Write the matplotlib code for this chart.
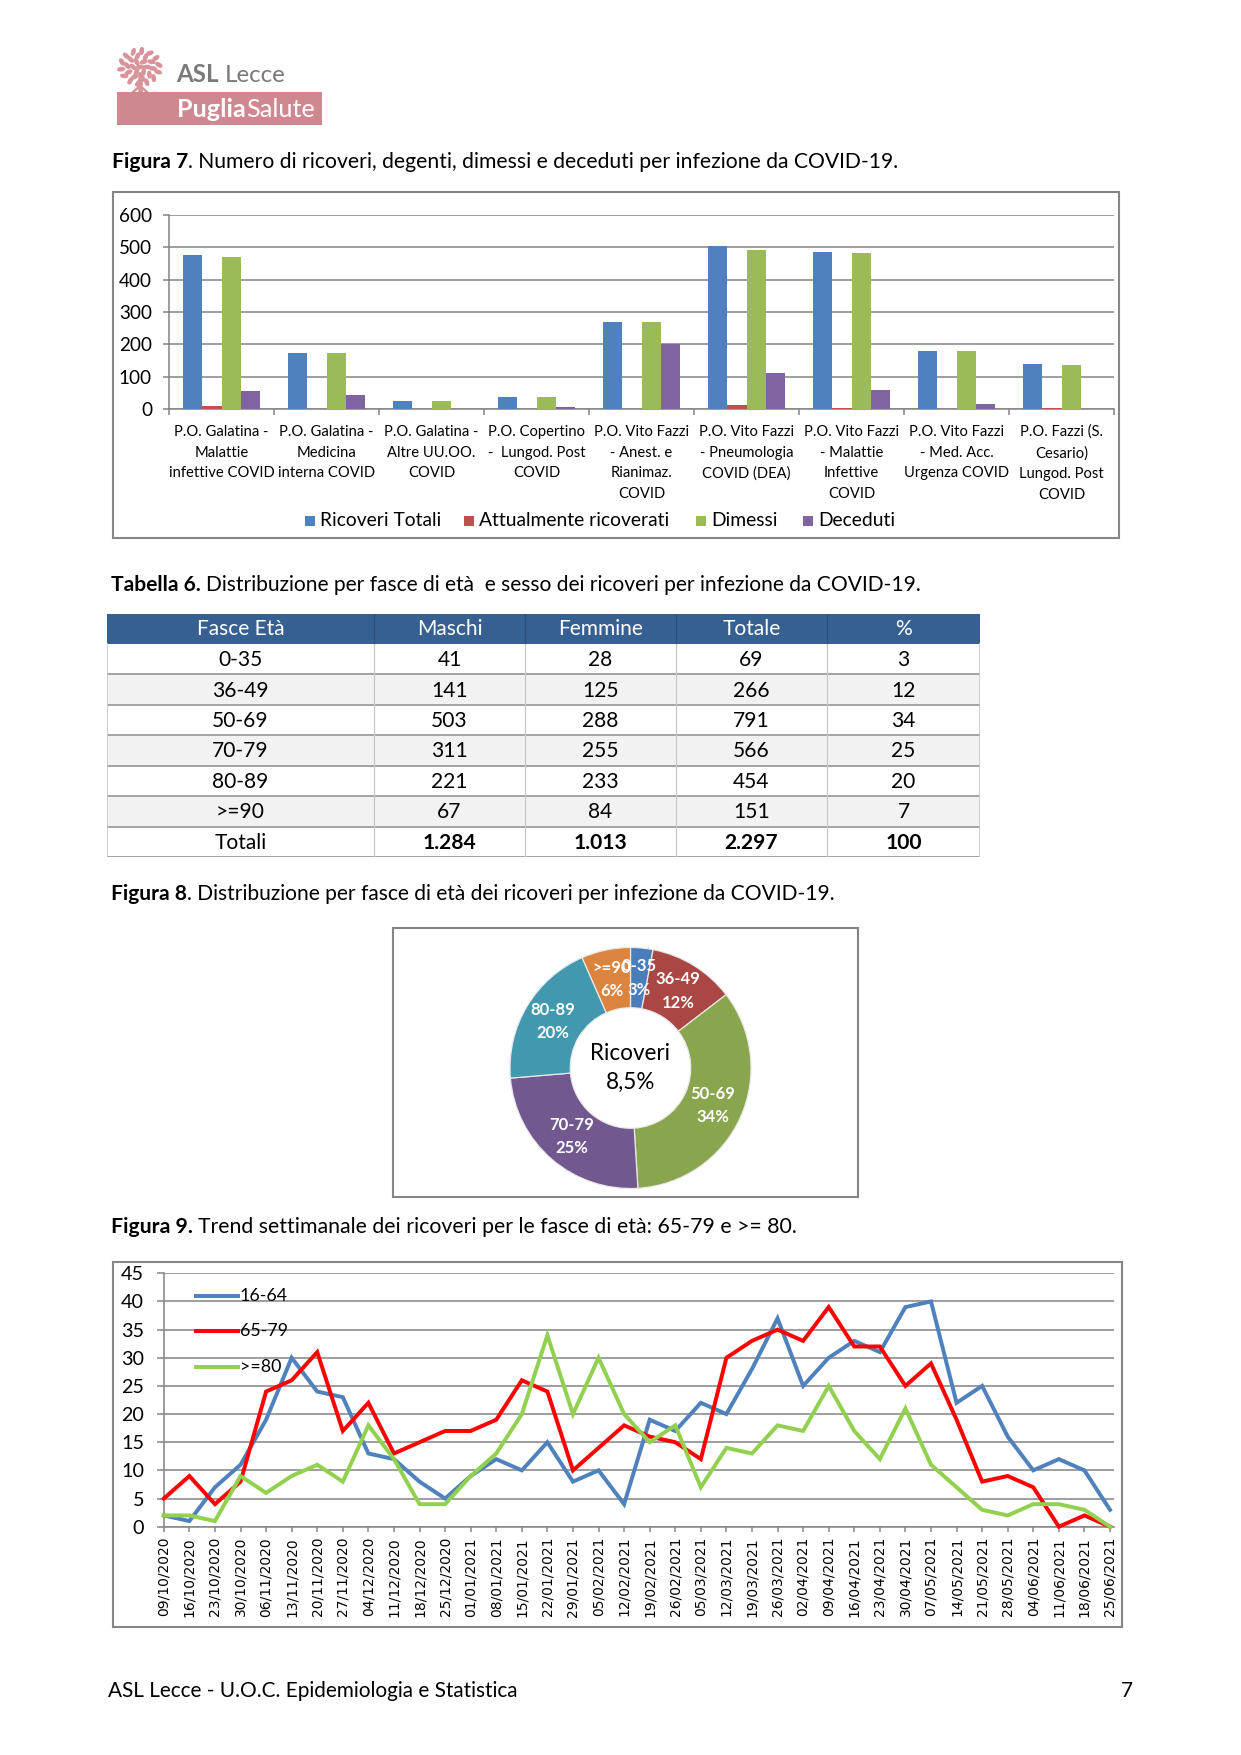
import numpy as np
import matplotlib
matplotlib.use('Agg')
import matplotlib.pyplot as plt
from matplotlib.patches import Rectangle, Ellipse
from matplotlib.lines import Line2D

W, H, DPI = 1241, 1755, 150

# ---- Figura 7: ricoveri per reparto
reparti = ['P.O. Galatina -\nMalattie\ninfettive COVID', 'P.O. Galatina -\nMedicina\ninterna COVID',
           'P.O. Galatina -\nAltre UU.OO.\nCOVID', 'P.O. Copertino\n-  Lungod. Post\nCOVID',
           'P.O. Vito Fazzi\n- Anest. e\nRianimaz.\nCOVID', 'P.O. Vito Fazzi\n- Pneumologia\nCOVID (DEA)',
           'P.O. Vito Fazzi\n- Malattie\nInfettive\nCOVID', 'P.O. Vito Fazzi\n- Med. Acc.\nUrgenza COVID',
           'P.O. Fazzi (S.\nCesario)\nLungod. Post\nCOVID']
ricoveri_totali = [477, 172, 25, 37, 269, 504, 486, 178, 140]
attualmente = [8, 0, 0, 0, 0, 12, 4, 0, 3]
dimessi = [469, 172, 25, 37, 269, 491, 482, 178, 137]
deceduti = [57, 42, 0, 6, 202, 111, 60, 15, 0]
serie_nomi = ['Ricoveri Totali', 'Attualmente ricoverati', 'Dimessi', 'Deceduti']
serie_colori = ['#4F81BD', '#C0504D', '#9BBB59', '#8064A2']

# ---- Tabella 6
fasce = ['0-35', '36-49', '50-69', '70-79', '80-89', '>=90']
maschi = [41, 141, 503, 311, 221, 67]
femmine = [28, 125, 288, 255, 233, 84]
totale = [69, 266, 791, 566, 454, 151]
perc = [3, 12, 34, 25, 20, 7]
riga_totali = ['Totali', '1.284', '1.013', '2.297', '100']
intestazione = ['Fasce Età', 'Maschi', 'Femmine', 'Totale', '%']

# ---- Figura 8: donut
donut_pct = ['3%', '12%', '34%', '25%', '20%', '6%']
donut_colori = ['#4A7EBB', '#AA4643', '#89A54E', '#71588F', '#4198AF', '#DB843D']

# ---- Figura 9: trend settimanale
date = ['09/10/2020', '16/10/2020', '23/10/2020', '30/10/2020', '06/11/2020', '13/11/2020', '20/11/2020',
        '27/11/2020', '04/12/2020', '11/12/2020', '18/12/2020', '25/12/2020', '01/01/2021', '08/01/2021',
        '15/01/2021', '22/01/2021', '29/01/2021', '05/02/2021', '12/02/2021', '19/02/2021', '26/02/2021',
        '05/03/2021', '12/03/2021', '19/03/2021', '26/03/2021', '02/04/2021', '09/04/2021', '16/04/2021',
        '23/04/2021', '30/04/2021', '07/05/2021', '14/05/2021', '21/05/2021', '28/05/2021', '04/06/2021',
        '11/06/2021', '18/06/2021', '25/06/2021']
eta_16_64 = [2, 1, 7, 11, 19, 30, 24, 23, 13, 12, 8, 5, 9, 12, 10, 15, 8, 10, 4, 19, 17,
             22, 20, 28, 37, 25, 30, 33, 31, 39, 40, 22, 25, 16, 10, 12, 10, 3]
eta_65_79 = [5, 9, 4, 8, 24, 26, 31, 17, 22, 13, 15, 17, 17, 19, 26, 24, 10, 14, 18, 16, 15,
             12, 30, 33, 35, 33, 39, 32, 32, 25, 29, 19, 8, 9, 7, 0, 2, 0]
eta_80 = [2, 2, 1, 9, 6, 9, 11, 8, 18, 12, 4, 4, 9, 13, 20, 34, 20, 30, 20, 15, 18,
          7, 14, 13, 18, 17, 25, 17, 12, 21, 11, 7, 3, 2, 4, 4, 3, 0]
trend_nomi = ['16-64', '65-79', '>=80']
trend_colori = ['#4F81BD', '#FF0000', '#92D050']

GRID = '#868686'

fig = plt.figure(figsize=(W / DPI, H / DPI), dpi=DPI)
fig.patch.set_facecolor('white')
renderer = fig.canvas.get_renderer()


def px_axes(x0, y0, x1, y1):
    return fig.add_axes([x0 / W, 1 - y1 / H, (x1 - x0) / W, (y1 - y0) / H])


def width_of(s, size, **kw):
    t = fig.text(0, 0, s, fontsize=size, **kw)
    w = t.get_window_extent(renderer).width
    t.remove()
    return w


def fit(s, target, **kw):
    return 10 * target / width_of(s, 10, **kw)


def frame(x0, y0, x1, y1, color=GRID, lw=1.0):
    fig.add_artist(Rectangle((x0 / W, 1 - y1 / H), (x1 - x0) / W, (y1 - y0) / H,
                             transform=fig.transFigure, fill=False, ec=color, lw=lw))


def runs(x0, x1, y, bold, rest, color='black', family='Lato', gap=False):
    # bold part + regular part fitted between x0 and x1
    sp = (width_of('x x', 10, family=family) - width_of('xx', 10, family=family)) if gap else 0
    w10 = width_of(bold, 10, family=family, fontweight='bold') + sp + width_of(rest, 10, family=family)
    size = 10 * (x1 - x0) / w10
    t = fig.text(x0 / W, 1 - y / H, bold, fontsize=size, fontweight='bold', family=family,
                 color=color, va='baseline')
    x = x0 + t.get_window_extent(renderer).width + sp * size / 10
    fig.text(x / W, 1 - y / H, rest, fontsize=size, family=family, color=color, va='baseline')


# ---------------- logo
axl = px_axes(112, 45, 170, 97)
axl.set_xlim(112, 170)
axl.set_ylim(97, 45)
axl.axis('off')
pink = '#D8939B'
axl.plot([140, 140], [74, 92], color=pink, lw=2.2)
axl.plot([133, 140, 147], [92, 86, 92], color=pink, lw=1.2)
rings = [(0, 1), (7, 6), (13, 10), (19, 14)]
for r, n in rings:
    for i in range(n):
        a = 2 * np.pi * i / n + r * 0.3
        cx, cy = 140 + r * np.cos(a), 67 + 0.85 * r * np.sin(a)
        axl.add_patch(Ellipse((cx, cy), 6, 2.6, angle=np.degrees(a) + 40 * (i % 2), color=pink))
fig.add_artist(Rectangle((117 / W, 1 - 125 / H), 205 / W, 33 / H, transform=fig.transFigure,
                         color='#CF8790', lw=0))
runs(176, 286, 82, 'ASL', 'Lecce', color='#7A7A7A', gap=True)
runs(177, 315, 117, 'Puglia', 'Salute', color='white')

# ---------------- captions
runs(112, 900, 168, 'Figura 7', '. Numero di ricoveri, degenti, dimessi e deceduti per infezione da COVID-19.')
runs(111, 927, 591, 'Tabella 6.', 'Distribuzione per fasce di età  e sesso dei ricoveri per infezione da COVID-19.',
     gap=True)
runs(111, 838, 900, 'Figura 8', '. Distribuzione per fasce di età dei ricoveri per infezione da COVID-19.')
runs(111, 795, 1233, 'Figura 9.', 'Trend settimanale dei ricoveri per le fasce di età: 65-79 e >= 80.', gap=True)

# footer
fsize = fit('ASL Lecce - U.O.C. Epidemiologia e Statistica', 411, family='Lato')
fig.text(108 / W, 1 - 1697 / H, 'ASL Lecce - U.O.C. Epidemiologia e Statistica', fontsize=fsize,
         family='Lato', va='baseline')
fig.text(1127 / W, 1 - 1697 / H, '7', fontsize=fsize, family='Lato', va='baseline', ha='center')

# ---------------- Figura 7 bar chart
frame(113, 192, 1119, 538)
ax1 = px_axes(169, 215, 1114, 409)
x = np.arange(len(reparti))
bw = 0.181
for k, vals in enumerate([ricoveri_totali, attualmente, dimessi, deceduti]):
    ax1.bar(x + 0.138 + k * bw, vals, width=bw, align='edge', color=serie_colori[k], zorder=3)
ax1.set_xlim(0, len(reparti))
ax1.set_ylim(0, 600)
ax1.set_yticks(range(0, 601, 100))
ax1.yaxis.grid(True, color=GRID, lw=0.75)
ax1.set_axisbelow(True)
for s in ['top', 'right']:
    ax1.spines[s].set_visible(False)
for s in ['left', 'bottom']:
    ax1.spines[s].set_color(GRID)
    ax1.spines[s].set_linewidth(0.75)
ax1.set_xticks(np.arange(len(reparti) + 1))
ax1.set_xticklabels([])
ax1.set_xticks(x + 0.5, minor=True)
cat_size = fit('infettive COVID', 105, family='Lato')
ax1.set_xticklabels(reparti, minor=True, fontsize=cat_size, family='Lato', linespacing=1.62)
ax1.tick_params(axis='x', which='major', length=2.9, color=GRID, width=0.75)
ax1.tick_params(axis='x', which='minor', length=0, pad=7.6)
ax1.tick_params(axis='y', length=2.9, color=GRID, width=0.75, pad=5.3,
                labelsize=fit('600', 33, family='Lato'))
for lab in ax1.get_yticklabels():
    lab.set_family('Lato')

# legend of bar chart
leg_size = fit('Ricoveri Totali', 121, family='Lato')
for nome, col, sx in zip(serie_nomi, serie_colori, [305, 464, 696, 803]):
    fig.add_artist(Rectangle((sx / W, 1 - 526 / H), 10 / W, 10 / H, transform=fig.transFigure,
                             color=col, lw=0))
    fig.text((sx + 15) / W, 1 - 521 / H, nome, fontsize=leg_size, family='Lato', va='center')

# ---------------- Tabella 6
cols = [107, 374, 525, 676, 827, 980]
top, hdr_h = 614, 30
row_h = (857 - 644) / 7
axt = px_axes(cols[0], top, cols[-1], 857)
axt.set_xlim(cols[0], cols[-1])
axt.set_ylim(857, top)
axt.axis('off')
tsize = fit('Maschi', 66, family='Lato')
axt.add_patch(Rectangle((cols[0], top), cols[-1] - cols[0], hdr_h, color='#366092', lw=0))
for j, h in enumerate(intestazione):
    axt.text((cols[j] + cols[j + 1]) / 2, top + hdr_h / 2, h, color='white', fontsize=tsize,
             family='Lato', ha='center', va='center')
righe = [[f, str(m), str(fe), str(t), str(p)] for f, m, fe, t, p in zip(fasce, maschi, femmine, totale, perc)]
righe.append(riga_totali)
for i, riga in enumerate(righe):
    y0 = 644 + i * row_h
    if i % 2 == 1:
        axt.add_patch(Rectangle((cols[0], y0), cols[-1] - cols[0], row_h, color='#F2F2F2', lw=0))
    for j, v in enumerate(riga):
        bold = (i == len(righe) - 1 and j > 0)
        axt.text((cols[j] + cols[j + 1]) / 2, y0 + row_h / 2 + 1, v, fontsize=tsize, family='Lato',
                 fontweight='bold' if bold else 'normal', ha='center', va='center')
    axt.plot([cols[0], cols[-1]], [y0 + row_h, y0 + row_h], color='#A0A0A0', lw=0.9)
for c in cols[1:-1]:
    axt.plot([c, c], [top, top + hdr_h], color='#2B4E78', lw=0.6)
    axt.plot([c, c], [top + hdr_h, 857], color='#C8C8C8', lw=0.6)
axt.plot([cols[0], cols[0]], [top + hdr_h, 857], color='#C8C8C8', lw=0.8)
axt.plot([cols[-1], cols[-1]], [top + hdr_h, 857], color='#C8C8C8', lw=0.8)

# ---------------- Figura 8 donut
frame(393, 928, 858, 1197)
r_px = 120.5
axd = px_axes(630.5 - r_px, 1068 - r_px, 630.5 + r_px, 1068 + r_px)
wedges, _ = axd.pie(totale, colors=donut_colori, startangle=90, counterclock=False,
                    wedgeprops=dict(width=0.5, edgecolor='#E8E8E8', linewidth=0.6))
axd.set_xlim(-1, 1)
axd.set_ylim(-1, 1)
dsize = fit('36-49', 45, family='Lato', fontweight='bold')
for w, nome, p in zip(wedges, fasce, donut_pct):
    a = np.deg2rad((w.theta1 + w.theta2) / 2)
    axd.text(0.75 * np.cos(a), 0.75 * np.sin(a), nome + '\n' + p, ha='center', va='center',
             color='white', fontweight='bold', fontsize=dsize, family='Lato', linespacing=1.55)
axd.text(0, 0, 'Ricoveri\n8,5%', ha='center', va='center', fontsize=fit('Ricoveri', 80, family='Lato'),
         family='Lato', linespacing=1.5)

# ---------------- Figura 9 trend
frame(113, 1262, 1122, 1627)
ax3 = px_axes(163.8, 1273.3, 1114, 1526.7)
xs = np.arange(len(date))
for vals, col in zip([eta_16_64, eta_65_79, eta_80], trend_colori):
    ax3.plot(xs, vals, color=col, lw=1.9, clip_on=False, zorder=3, solid_joinstyle='miter')
ax3.set_xlim(0, len(date) - 1 + 4 / 25.57)
ax3.set_ylim(0, 45)
ax3.set_yticks(range(0, 46, 5))
ax3.yaxis.grid(True, color=GRID, lw=0.75)
ax3.set_axisbelow(True)
for s in ['top', 'right']:
    ax3.spines[s].set_visible(False)
for s in ['left', 'bottom']:
    ax3.spines[s].set_color(GRID)
    ax3.spines[s].set_linewidth(0.75)
ax3.set_xticks(xs)
ax3.set_xticklabels(date, rotation=90, fontsize=fit('09/10/2020', 80, family='DejaVu Sans'),
                    family='DejaVu Sans')
ax3.tick_params(axis='x', length=2.4, color=GRID, width=0.75, pad=2.5)
ax3.tick_params(axis='y', length=3.4, color=GRID, width=0.75, pad=6,
                labelsize=fit('45', 23, family='Lato'))
for lab in ax3.get_yticklabels():
    lab.set_family('Lato')

lsize = fit('16-64', 48, family='Lato')
for nome, col, ly in zip(trend_nomi, trend_colori, [1296, 1331, 1367]):
    fig.add_artist(Line2D([196 / W, 238 / W], [1 - ly / H, 1 - ly / H], color=col, lw=1.9,
                          transform=fig.transFigure))
    fig.text(240 / W, 1 - ly / H, nome, fontsize=lsize, family='Lato', va='center')

fig.savefig('out.png', dpi=DPI, facecolor='white')
